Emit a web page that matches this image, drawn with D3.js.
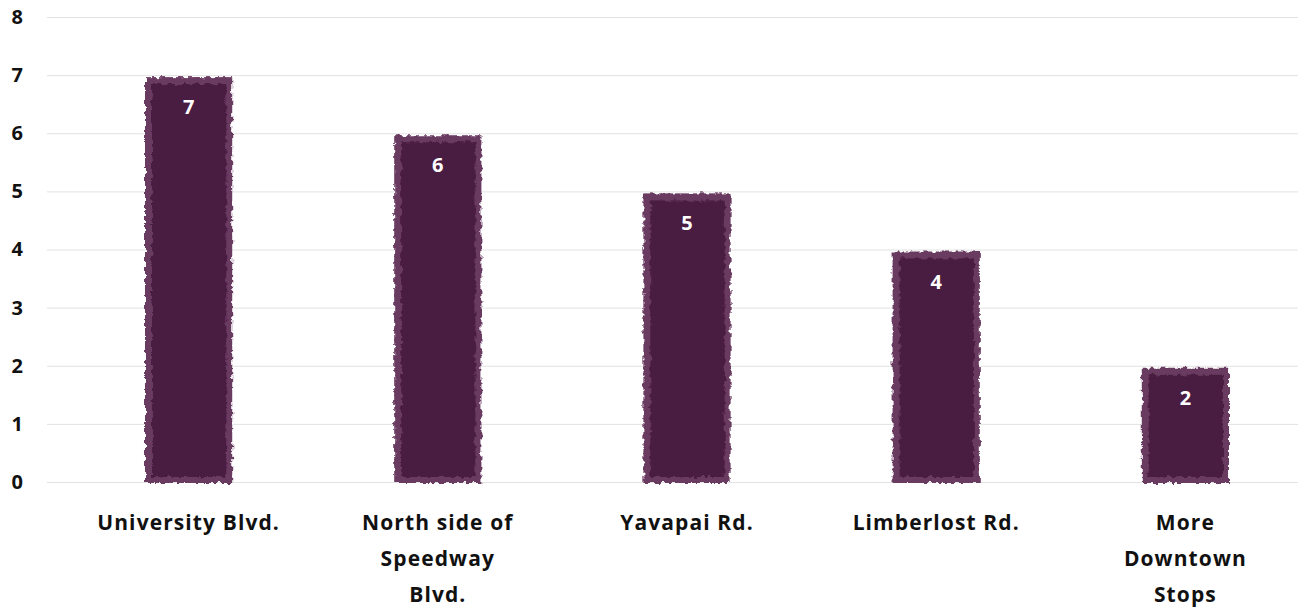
<!DOCTYPE html>
<html>
<head>
<meta charset="utf-8">
<script src="https://cdn.jsdelivr.net/npm/d3@7"></script>
<style>
  html, body { margin: 0; padding: 0; background: #fff; }
  svg { display: block; font-family: "Open Sans", "Inter", sans-serif; }
</style>
</head>
<body>
<svg id="chart" width="1298" height="614"></svg>
<script>
// Requested stop locations and how many times each was named
const categories = [
  ["University Blvd."],
  ["North side of", "Speedway", "Blvd."],
  ["Yavapai Rd."],
  ["Limberlost Rd."],
  ["More", "Downtown", "Stops"]
];
const counts = [7, 6, 5, 4, 2];
const yTicks = [0, 1, 2, 3, 4, 5, 6, 7, 8];

const svg = d3.select("#chart");
const W = 1298, H = 614;
const margin = { top: 17, right: -12, bottom: 132, left: 64 };
const gridLeft = 47;
const FONT = "'Open Sans', Inter, sans-serif";

const keys = categories.map(c => c.join(" "));
const x = d3.scaleBand()
  .domain(keys)
  .range([margin.left, W - margin.right])
  .paddingInner(0.65)
  .paddingOuter(0.325);

const y = d3.scaleLinear()
  .domain([0, 8])
  .range([H - margin.bottom, margin.top]);

// Rough, hand-painted edge for the bars
const defs = svg.append("defs");
const filt = defs.append("filter").attr("id", "rough")
  .attr("x", "-10%").attr("y", "-10%").attr("width", "120%").attr("height", "120%");
filt.append("feTurbulence").attr("type", "fractalNoise")
  .attr("baseFrequency", 0.18).attr("numOctaves", 3).attr("seed", 7).attr("result", "noise");
filt.append("feDisplacementMap").attr("in", "SourceGraphic").attr("in2", "noise")
  .attr("scale", 6).attr("xChannelSelector", "R").attr("yChannelSelector", "G");

// Gridlines
svg.append("g").selectAll("line").data(yTicks).join("line")
  .attr("x1", gridLeft).attr("x2", W)
  .attr("y1", d => y(d) + 0.5).attr("y2", d => y(d) + 0.5)
  .attr("stroke", "#e2e2e2").attr("stroke-width", 1);

// Y axis labels
const yAxis = svg.append("g")
  .attr("transform", `translate(23,0)`)
  .call(d3.axisLeft(y).tickValues(yTicks).tickSize(0).tickPadding(0).tickFormat(d3.format("d")));
yAxis.select(".domain").remove();
yAxis.selectAll("text")
  .attr("font-family", FONT)
  .attr("font-size", 20).attr("font-weight", 700)
  .attr("fill", "#111");

// Bars
const bars = svg.append("g").selectAll("g").data(counts).join("g");
bars.append("rect")
  .attr("x", (d, i) => x(keys[i]))
  .attr("y", d => y(d) + 2)
  .attr("width", x.bandwidth())
  .attr("height", d => y(0) - y(d) - 1)
  .attr("fill", "#6b3a61")
  .attr("filter", "url(#rough)");
bars.append("rect")
  .attr("x", (d, i) => x(keys[i]) + 7)
  .attr("y", d => y(d) + 9)
  .attr("width", x.bandwidth() - 13)
  .attr("height", d => y(0) - y(d) - 14)
  .attr("fill", "#4a1a42")
  .attr("filter", "url(#rough)");

// Value labels inside the bars
bars.append("text")
  .attr("x", (d, i) => x(keys[i]) + x.bandwidth() / 2)
  .attr("y", d => y(d) + 39)
  .attr("text-anchor", "middle")
  .attr("font-family", FONT)
  .attr("font-size", 20).attr("font-weight", 700)
  .attr("fill", "#fff")
  .text(d => d);

// Category labels (multi-line)
const xl = svg.append("g").selectAll("text").data(categories).join("text")
  .attr("x", (d, i) => x(keys[i]) + x.bandwidth() / 2)
  .attr("y", 530)
  .attr("text-anchor", "middle")
  .attr("font-family", FONT)
  .attr("font-size", 21).attr("font-weight", 700)
  .attr("letter-spacing", 1.1)
  .attr("fill", "#111");
xl.selectAll("tspan").data(d => d).join("tspan")
  .attr("x", function () { return this.parentNode.getAttribute("x"); })
  .attr("dy", (d, i) => i === 0 ? 0 : 36)
  .text(d => d);
</script>
</body>
</html>
